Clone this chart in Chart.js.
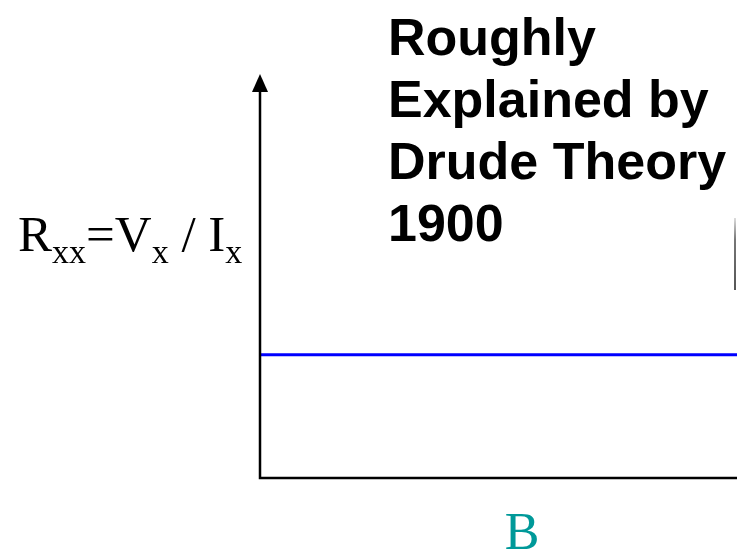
<!DOCTYPE html>
<html>
<head>
<meta charset="utf-8">
<script src="https://cdn.jsdelivr.net/npm/chart.js@4"></script>
<style>
    html, body { margin: 0; padding: 0; background: #fff; }
    #wrap { position: relative; width: 737px; height: 553px; overflow: hidden; }
    canvas { position: absolute; left: 0; top: 0; }
    .note {
        position: absolute; left: 388px; top: 6px;
        font: bold 52px "Liberation Sans", Arial, sans-serif;
        line-height: 62px; color: #000; white-space: nowrap;
    }
    .ylab {
        position: absolute; left: 18px; top: 209px;
        font: 51px "Liberation Serif", "Times New Roman", serif;
        line-height: 51px; color: #000; white-space: nowrap;
    }
    .ylab sub { font-size: 34px; vertical-align: -12px; line-height: 0; }
    .xlab {
        position: absolute; left: 497px; top: 506px; width: 50px; text-align: center;
        font: 52px "Liberation Serif", "Times New Roman", serif;
        line-height: 52px; color: #009999;
    }
</style>
</head>
<body>
<div id="wrap">
    <canvas id="chart" width="737" height="553"></canvas>
    <div class="note">Roughly<br>Explained by<br>Drude Theory<br>1900</div>
    <div class="ylab">R<sub>xx</sub>=V<sub>x</sub> / I<sub>x</sub></div>
    <div class="xlab">B</div>
</div>
<script>
// magnetic field (arbitrary units) and longitudinal resistance – flat, B independent
const bField = [0, 10];
const rxx = [3.05, 3.05];

// axes with an arrow on the vertical one, plus the thin grey edge line at the right
const axesPlugin = {
    id: 'axes',
    afterDraw(chart) {
        const { ctx, chartArea: a } = chart;
        ctx.save();
        ctx.strokeStyle = '#000';
        ctx.lineWidth = 2.5;
        ctx.beginPath();
        ctx.moveTo(a.left, a.top + 14);
        ctx.lineTo(a.left, a.bottom);
        ctx.lineTo(a.right, a.bottom);
        ctx.stroke();

        ctx.fillStyle = '#000';
        ctx.beginPath();
        ctx.moveTo(a.left, a.top);
        ctx.lineTo(a.left - 8, a.top + 18);
        ctx.lineTo(a.left + 8, a.top + 18);
        ctx.closePath();
        ctx.fill();

        const g = ctx.createLinearGradient(0, 218, 0, 290);
        g.addColorStop(0, '#dddddd');
        g.addColorStop(0.3, '#777777');
        g.addColorStop(1, '#555555');
        ctx.strokeStyle = g;
        ctx.lineWidth = 2;
        ctx.beginPath();
        ctx.moveTo(735, 218);
        ctx.lineTo(735, 290);
        ctx.stroke();
        ctx.restore();
    }
};

new Chart(document.getElementById('chart'), {
    type: 'line',
    data: {
        datasets: [{
            data: bField.map((b, i) => ({ x: b, y: rxx[i] })),
            borderColor: '#0000ff',
            borderWidth: 3,
            pointRadius: 0,
            tension: 0
        }]
    },
    options: {
        responsive: false,
        animation: false,
        layout: { padding: { left: 260, right: 0, top: 74, bottom: 75 } },
        plugins: { legend: { display: false }, tooltip: { enabled: false } },
        scales: {
            x: { type: 'linear', min: 0, max: 10, display: false },
            y: { min: 0, max: 10, display: false }
        }
    },
    plugins: [axesPlugin]
});
</script>
</body>
</html>
